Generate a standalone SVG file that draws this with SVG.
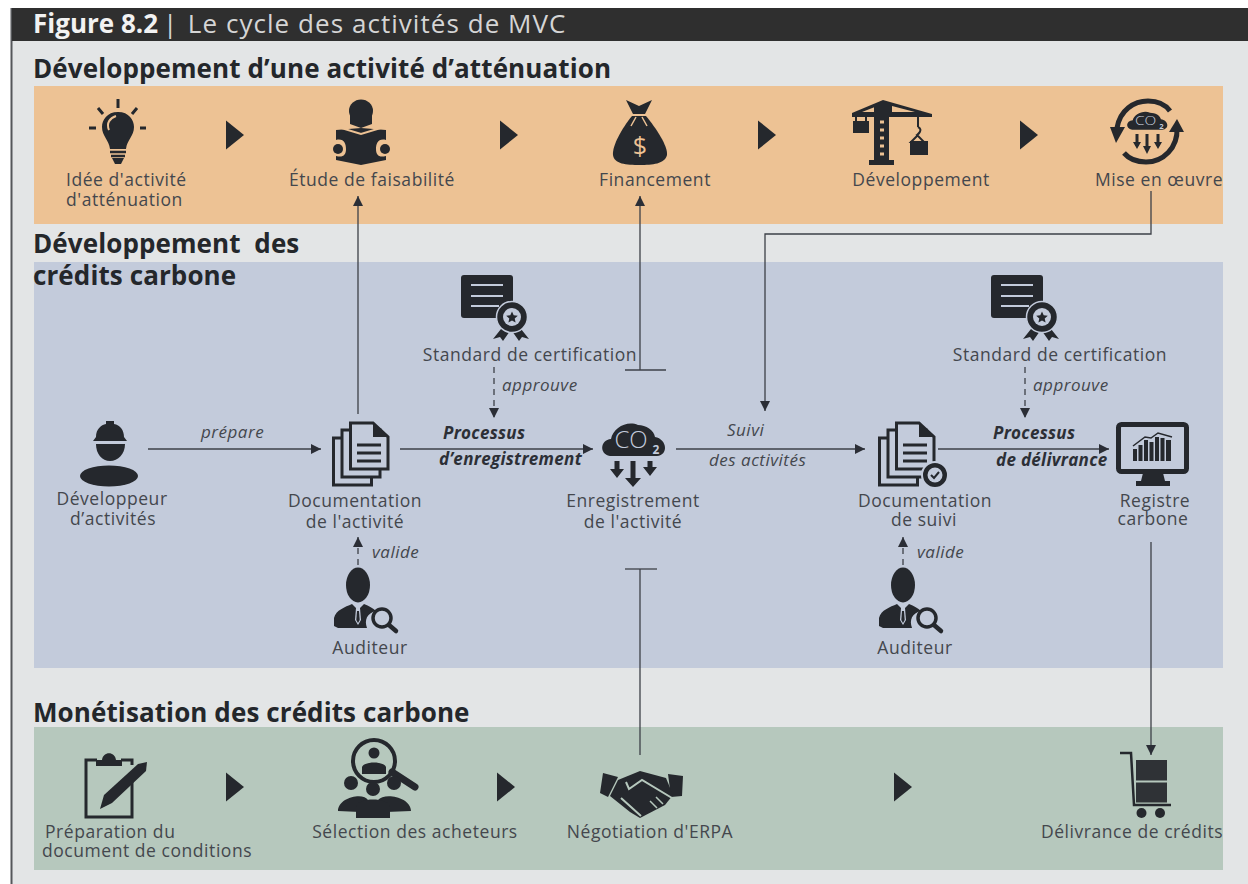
<svg xmlns="http://www.w3.org/2000/svg" width="1248" height="884" viewBox="0 0 1248 884">
<style>
text{font-family:"Open Sans","Liberation Sans",sans-serif;fill:#44474d}
.l{font-size:17.5px;letter-spacing:.55px;text-anchor:middle}
.ls{font-size:17.5px;letter-spacing:.55px}
.h{font-size:26px;font-weight:700;letter-spacing:.1px;fill:#24272b}
.i{font-size:17px;font-style:italic;letter-spacing:.5px}
.b{font-size:17px;font-style:italic;font-weight:700;letter-spacing:.3px;fill:#2c2f36}
.k{fill:#25282d}
.ln{fill:none;stroke:#3d4048;stroke-width:1.3}
.d{stroke-dasharray:6 5}
.sheet{fill:#c3cbdb;stroke:#25282d;stroke-width:3}
</style>
<defs>
<marker id="ah" markerWidth="12" markerHeight="12" refX="10" refY="5" orient="auto" markerUnits="userSpaceOnUse"><path d="M0 0L10 5L0 10Z" fill="#2b2e36"/></marker>
<path id="tri" d="M0 -14.5L18 0L0 14.5Z" fill="#25282d"/>
<g id="cert">
<rect x="0" y="0" width="52" height="43" rx="3" fill="#25282d"/>
<path d="M10 10H42M10 21H42M10 31H38" stroke="#c3cbdb" stroke-width="2" fill="none"/>
<path d="M40 54L32 64L39 62L42 66L49 56ZM60 54L68 64L61 62L58 66L51 56Z" fill="#25282d"/>
<circle cx="51" cy="42" r="15.5" fill="#25282d" stroke="#c3cbdb" stroke-width="1.5"/>
<circle cx="51" cy="42" r="9" fill="#c3cbdb"/>
<path d="M51 36.500L52.700 40.300L56.800 40.700L53.700 43.400L54.600 47.500L51 45.400L47.400 47.500L48.300 43.400L45.200 40.700L49.300 40.300Z" fill="#25282d"/>
</g>
<g id="docs">
<rect class="sheet" x="1.500" y="16" width="38" height="47"/>
<rect class="sheet" x="10" y="8" width="38" height="47"/>
<path class="sheet" d="M18.500 1H41L56 15V47H18.500Z"/>
<path d="M41 1V15H56Z" fill="#25282d"/>
<path d="M25 23H49M25 31H49M25 39H49" stroke="#25282d" stroke-width="3"/>
</g>
<g id="co2">
<path d="M8 34C-3 32 -2 18 9 17C11 6 25 -2 36 3C44 3 52 8 53 15C65 17 67 33 55 34Z" fill="#25282d"/>
<text x="29" y="26" font-size="24" font-weight="300" style="font-family:'Open Sans',sans-serif;fill:#c3cbdb" text-anchor="middle">CO</text>
<text x="54" y="32" font-size="12" font-weight="700" style="font-family:'Open Sans',sans-serif;fill:#c3cbdb" text-anchor="middle">2</text>
</g>
<g id="auditor">
<ellipse cx="25" cy="17" rx="12" ry="17.500" class="k"/>
<path d="M1 58V50C3 42 12 39 19 36L25 42L31 36C36 38 40 40 43 43C34 45 31 52 34 60L5 60Z" class="k"/>
<path d="M23 40H27L28 52L25 57L22 52Z" fill="#c3cbdb"/>
<path d="M24 43H26L26.700 52L25 55L23.300 52Z" fill="#25282d"/>
<circle cx="49" cy="50" r="9" fill="none" stroke="#25282d" stroke-width="3.500"/>
<path d="M56 57L63 63" stroke="#25282d" stroke-width="4.500" stroke-linecap="round"/>
</g>
</defs>

<rect width="1248" height="884" fill="#fff"/>
<rect x="12" y="8" width="1236" height="876" fill="#e3e5e6"/>
<rect x="10.500" y="8" width="2" height="876" fill="#55575a"/>
<rect x="12" y="8" width="1236" height="33" fill="#2f2f2f"/>
<rect x="34" y="86" width="1189" height="138" fill="#edc294"/>
<rect x="34" y="262" width="1189" height="406" fill="#c3cbdb"/>
<rect x="34" y="727" width="1189" height="143" fill="#b6c8bd"/>

<text x="33" y="33" font-size="26" font-weight="700" style="fill:#f2f2f2">Figure 8.2</text>
<text y="33" font-size="26" letter-spacing="1.050" style="fill:#d5d5d5"><tspan x="163">|</tspan><tspan x="180"> Le cycle des activités de MVC</tspan></text>
<text class="h" x="33" y="78">Développement d’une activité d’atténuation</text>
<text class="h" x="33" y="253">Développement&#160; des</text>
<text class="h" x="33" y="285">crédits carbone</text>
<text class="h" x="33" y="722">Monétisation des crédits carbone</text>

<g id="connectors">
<use href="#tri" x="226" y="135"/><use href="#tri" x="500" y="135"/><use href="#tri" x="758" y="135"/><use href="#tri" x="1020" y="135"/>
<use href="#tri" x="226" y="787"/><use href="#tri" x="497" y="787"/><use href="#tri" x="894" y="787"/>
<path class="ln" d="M358 414V196" marker-end="url(#ah)"/>
<path class="ln" d="M640 370V196" marker-end="url(#ah)"/>
<path class="ln" d="M625 370H666"/>
<path class="ln" d="M1151 191V234H765V411" marker-end="url(#ah)"/>
<path class="ln" d="M148 449H321" marker-end="url(#ah)"/>
<path class="ln" d="M400 449H593" marker-end="url(#ah)"/>
<path class="ln" d="M676 449H865" marker-end="url(#ah)"/>
<path class="ln" d="M938 449H1109" marker-end="url(#ah)"/>
<path class="ln d" d="M494 367V418" marker-end="url(#ah)"/>
<path class="ln d" d="M1025 367V418" marker-end="url(#ah)"/>
<path class="ln d" d="M358 565V537" marker-end="url(#ah)"/>
<path class="ln d" d="M903 565V537" marker-end="url(#ah)"/>
<path class="ln" d="M640 755V569"/>
<path class="ln" d="M625 569H657"/>
<path class="ln" d="M1151 542V755" marker-end="url(#ah)"/>
</g>

<text class="i" x="201" y="438">prépare</text>
<text class="b" x="443" y="439">Processus</text>
<text class="b" x="439" y="465">d’enregistrement</text>
<text class="i" x="727" y="436">Suivi</text>
<text class="i" x="709" y="466">des activités</text>
<text class="b" x="993" y="439">Processus</text>
<text class="b" x="996" y="466">de délivrance</text>
<text class="i" x="502" y="391">approuve</text>
<text class="i" x="1033" y="391">approuve</text>
<text class="i" x="372" y="558">valide</text>
<text class="i" x="917" y="558">valide</text>

<g id="idee">
<path d="M118 112C107 112 102 120 102 127C102 136 109 140 110 149H126C127 140 134 136 134 127C134 120 129 112 118 112Z" class="k"/>
<path d="M109 130C106 123 110 118 116 116" fill="none" stroke="#edc294" stroke-width="2"/>
<path d="M110 152H126M111 156H125" stroke="#25282d" stroke-width="2.500"/>
<path d="M112 158H124L121 164H115Z" class="k"/>
<path d="M118 99V108M98 108L103 114M137 108L132 114M89 128H96M140 128H146" stroke="#25282d" stroke-width="3"/>
<text class="ls"><tspan x="66" y="186">Idée d'activité</tspan><tspan x="66" y="206">d'atténuation</tspan></text>
</g>
<g id="etude">
<ellipse cx="361" cy="111" rx="12" ry="11.500" class="k"/>
<path d="M350 114H372V124L361 128L350 124Z" class="k"/>
<path d="M336 130L361 128L386 130V140C378 138 376 144 376 149C376 155 379 158 386 156V160L361 165L336 160V156C343 158 346 155 346 149C346 144 344 138 336 140Z" class="k"/>
<path d="M338 127L361 134L384 127" fill="none" stroke="#edc294" stroke-width="2"/>
<circle cx="338" cy="149" r="5" class="k"/><circle cx="385" cy="149" r="5" class="k"/>
<text class="l" x="372" y="186">Étude de faisabilité</text>
</g>
<g id="financement">
<path d="M626 100L639 106L652 100L645 114H633Z" class="k"/>
<path d="M632 116H646C656 128 668 146 667 155C665 164 652 165 640 165C626 165 614 164 613 155C612 146 622 128 632 116Z" class="k"/>
<path d="M636 117L631 126M642 117L647 126" stroke="#edc294" stroke-width="1.500"/>
<text x="640" y="155" font-size="25" text-anchor="middle" style="fill:#edc294">$</text>
<text class="l" x="655" y="186">Financement</text>
</g>
<g id="developpement">
<path d="M852 113L883 100L932 114V117H852Z" class="k"/>
<path d="M862 112L880 105V112ZM892 112V106L915 112Z" fill="#edc294"/>
<rect x="874" y="104" width="15" height="60" fill="#25282d"/>
<path d="M880 122H884M880 130H884M880 138H884M880 146H884M880 154H884" stroke="#edc294" stroke-width="3"/>
<rect x="869" y="160" width="25" height="5" class="k"/>
<rect x="853" y="121" width="16" height="12" class="k"/>
<path d="M856 117V122M866 117V122M918 117V127" stroke="#25282d" stroke-width="2"/>
<path d="M918 127C924 130 917 135 917 135L924 142H911L918 135" fill="none" stroke="#25282d" stroke-width="2"/>
<rect x="910" y="141" width="18" height="14" class="k"/>
<text class="l" x="921" y="186">Développement</text>
</g>
<g id="mise">
<path d="M1117 128C1120 110 1134 101 1148 101C1156 101 1165 104 1170 111" fill="none" stroke="#25282d" stroke-width="5"/>
<path d="M1110 127H1125L1116 143Z" class="k"/>
<path d="M1177 128C1178 148 1163 162 1146 162C1138 162 1130 160 1124 153" fill="none" stroke="#25282d" stroke-width="5"/>
<path d="M1169 132H1184L1177 119Z" class="k"/>
<use href="#co2" transform="translate(1127 111) scale(.64 .55)"/>
<path d="M1137 134V146M1147 134V150M1158 134V146" stroke="#25282d" stroke-width="3"/>
<path d="M1133 142H1141L1137 149ZM1143 146H1151L1147 154ZM1154 142H1162L1158 149Z" class="k"/>
<text class="l" x="1159" y="186">Mise en œuvre</text>
</g>

<g id="developpeur">
<path d="M96 437C96 429 101 425 106 424V421H114V424C120 425 124 430 124 437L127 441H93Z" class="k"/>
<path d="M96 444H125C125 454 118 461 110 461C102 461 96 454 96 444Z" class="k"/>
<ellipse cx="109" cy="476" rx="29" ry="10.500" class="k"/>
<text class="l"><tspan x="112" y="505">Développeur</tspan><tspan x="113" y="525">d’activités</tspan></text>
</g>
<use id="doc1-icon" href="#docs" x="332" y="422"/>
<g id="doc1"><text class="l"><tspan x="355" y="507">Documentation</tspan><tspan x="355" y="528">de l'activité</tspan></text></g>
<use id="cert1" href="#cert" x="461" y="275"/>
<text class="l" x="530" y="361">Standard de certification</text>
<use id="co-icon" href="#co2" x="602" y="422"/>
<path d="M617 461V472M633 461V482M650 461V470" stroke="#25282d" stroke-width="5"/>
<path d="M610 469H624L617 478ZM625 478H641L633 487ZM643 467H657L650 476Z" class="k"/>
<g id="enreg"><text class="l"><tspan x="633" y="507">Enregistrement</tspan><tspan x="633" y="528">de l'activité</tspan></text></g>
<g id="doc2">
<use href="#docs" x="878" y="422"/>
<circle cx="935" cy="475" r="13" fill="#25282d" stroke="#c3cbdb" stroke-width="2"/>
<circle cx="935" cy="475" r="7.500" fill="#c3cbdb"/>
<path d="M931 475L934 478L939 472" fill="none" stroke="#25282d" stroke-width="2"/>
<text class="l"><tspan x="925" y="507">Documentation</tspan><tspan x="924" y="526">de suivi</tspan></text>
</g>
<use id="cert2" href="#cert" x="991" y="275"/>
<text class="l" x="1060" y="361">Standard de certification</text>
<g id="registre">
<rect x="1118.500" y="424.500" width="68" height="47" rx="3" fill="#c3cbdb" stroke="#25282d" stroke-width="5"/>
<path d="M1143 473H1163L1165 481H1170V486H1136V481H1141Z" class="k"/>
<path d="M1133 461V449H1137V461ZM1138.500 461V445H1142.500V461ZM1144 461V440H1148V461ZM1149.500 461V442H1153.500V461ZM1155 461V437H1159V461ZM1160.500 461V438H1164.500V461ZM1166 461V440H1171V461Z" class="k"/>
<path d="M1133 446L1145 437L1151 438L1158 433L1172 437" fill="none" stroke="#25282d" stroke-width="1.500"/>
<text class="l"><tspan x="1155" y="507">Registre</tspan><tspan x="1153" y="525">carbone</tspan></text>
</g>
<use id="aud1" href="#auditor" x="333" y="568"/>
<text class="l" x="370" y="654">Auditeur</text>
<use id="aud2" href="#auditor" x="878" y="568"/>
<text class="l" x="915" y="654">Auditeur</text>

<g id="preparation">
<path d="M97 760H86V817H132V780M132 765V760H121" fill="none" stroke="#25282d" stroke-width="3"/>
<path d="M96 766V760H102C103 751 115 751 116 760H122V766Z" class="k"/>
<path d="M100 809L104 795L138 764L147 762L146 771L112 803Z" class="k"/>
<text class="ls"><tspan x="45" y="838">Préparation du</tspan><tspan x="42" y="857">document de conditions</tspan></text>
</g>
<g id="selection">
<circle cx="374" cy="761" r="21" fill="none" stroke="#25282d" stroke-width="4"/>
<circle cx="374" cy="753" r="5.500" class="k"/>
<path d="M362 774V767C364 761 384 761 386 767V774Z" class="k"/>
<path d="M392 772L415 787" stroke="#25282d" stroke-width="7" stroke-linecap="round"/>
<circle cx="351" cy="783" r="7" class="k"/><circle cx="394" cy="783" r="7" class="k"/><circle cx="373" cy="789" r="7" class="k"/>
<path d="M338 811C338 797 364 792 368 800L360 812ZM378 800C384 792 411 797 411 811L386 812Z" class="k"/>
<path d="M356 818V807C358 797 388 797 390 807V818Z" class="k"/>
<text class="l" x="415" y="838">Sélection des acheteurs</text>
</g>
<g id="negociation">
<path d="M603 773L618 777L608 797L600 793ZM668 774L683 776L682 796L671 797Z" class="k"/>
<path d="M618 780L640 771L666 778L673 795L665 805L640 818L630 812L610 796Z" class="k"/>
<path d="M626 782L629 789L642 780L672 798M621 798L641 816" fill="none" stroke="#b6c8bd" stroke-width="2"/>
<path d="M650 801L657 808M656 797L663 804" stroke="#b6c8bd" stroke-width="1.500"/>
<text class="l" x="650" y="838">Négotiation d'ERPA</text>
</g>
<g id="delivrance">
<path d="M1120 766H1131L1134 805H1171" fill="none" stroke="#25282d" stroke-width="0"/>
<path d="M1120 753H1131L1134 805H1171" fill="none" stroke="#25282d" stroke-width="2.500"/>
<rect x="1136" y="760" width="31" height="20.500" fill="#2f3236"/>
<rect x="1136" y="782.500" width="31" height="20" fill="#2f3236"/>
<circle cx="1141.500" cy="813" r="5" class="k"/><circle cx="1160" cy="813" r="5" class="k"/>
<text class="l" x="1132" y="838">Délivrance de crédits</text>
</g>
</svg>
